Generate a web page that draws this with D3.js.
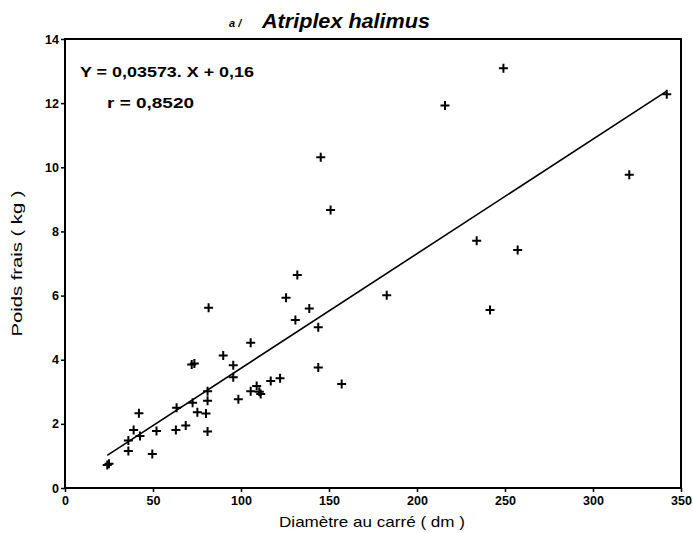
<!DOCTYPE html>
<html>
<head>
<meta charset="utf-8">
<script src="https://cdn.jsdelivr.net/npm/d3@7/dist/d3.min.js"></script>
<style>
  html, body { margin: 0; padding: 0; background: #fff; }
  svg { display: block; }
  text { font-family: "Liberation Sans", Arial, Helvetica, sans-serif; fill: #000; }
</style>
</head>
<body>
<svg id="chart" width="693" height="533"></svg>
<script>
// Squared diameter (dm) and fresh weight (kg) for each shrub
const diametre = [24, 25, 36, 36, 39, 42, 42.6, 49.6, 52, 63, 63.4, 68.6, 72, 73.5, 72.5, 75.2, 80.1, 81, 81, 81,
  81.6, 89.9, 95.6, 95.6, 98.5, 105.5, 105.5, 108.9, 110.4, 111.2, 116.9, 122.2, 125.6, 130.9, 132, 138.8,
  143.9, 143.9, 145.3, 150.9, 157.2, 182.8, 215.9, 233.9, 241.5, 249.1, 257.2, 320.6, 341.9];
const poids = [0.72, 0.76, 1.15, 1.48, 1.81, 2.33, 1.62, 1.06, 1.78, 1.81, 2.50, 1.95, 3.85, 3.88, 2.66, 2.36, 2.32, 3.02, 2.72, 1.76,
  5.62, 4.13, 3.83, 3.45, 2.77, 4.53, 3.02, 3.18, 3.00, 2.93, 3.34, 3.42, 5.93, 5.24, 6.64, 5.60,
  5.01, 3.76, 10.31, 8.67, 3.24, 6.01, 11.93, 7.71, 5.55, 13.09, 7.42, 9.77, 12.28];

// Fitted regression Y = a.X + b
const pente = 0.03573;
const ordonnee = 0.16;

const xTicks = [0, 50, 100, 150, 200, 250, 300, 350];
const yTicks = [0, 2, 4, 6, 8, 10, 12, 14];

const svg = d3.select("#chart");
const plot = { left: 65, right: 681, top: 39, bottom: 488 };

const x = d3.scaleLinear().domain([0, 350]).range([plot.left, plot.right]);
const y = d3.scaleLinear().domain([0, 14]).range([plot.bottom, plot.top]);

// Axes
const gx = svg.append("g").attr("transform", `translate(0,${plot.bottom})`)
  .call(d3.axisBottom(x).tickValues(xTicks).tickSize(4).tickPadding(4).tickFormat(d3.format("d")));
const gy = svg.append("g").attr("transform", `translate(${plot.left},0)`)
  .call(d3.axisLeft(y).tickValues(yTicks).tickSize(4).tickPadding(2).tickFormat(d3.format("d")));
[gx, gy].forEach(g => {
  g.select(".domain").remove();
  g.selectAll(".tick line").attr("stroke", "#000").attr("stroke-width", 1.5);
  g.selectAll(".tick text").attr("font-size", 12.5).attr("font-weight", "bold").attr("fill", "#000");
});

// Plot frame
svg.append("rect")
  .attr("x", plot.left).attr("y", plot.top)
  .attr("width", plot.right - plot.left).attr("height", plot.bottom - plot.top)
  .attr("fill", "none").attr("stroke", "#000").attr("stroke-width", 2);

// Regression line over the observed range
const xMin = d3.min(diametre), xMax = d3.max(diametre);
svg.append("line")
  .attr("x1", x(xMin)).attr("y1", y(pente * xMin + ordonnee))
  .attr("x2", x(xMax)).attr("y2", y(pente * xMax + ordonnee))
  .attr("stroke", "#000").attr("stroke-width", 1.6);

// Observations as plus markers
const pts = diametre.map((d, i) => [d, poids[i]]);
const h = 4.5;
svg.append("g").selectAll("path").data(pts).join("path")
  .attr("d", d => {
    const cx = x(d[0]), cy = y(d[1]);
    return `M${cx - h},${cy}H${cx + h}M${cx},${cy - h}V${cy + h}`;
  })
  .attr("stroke", "#000").attr("stroke-width", 2).attr("fill", "none");

// Title
svg.append("text").attr("x", 229).attr("y", 27)
  .attr("font-weight", "bold").attr("font-style", "italic").attr("font-size", 11)
  .text("a /");
svg.append("text").attr("x", 262).attr("y", 28)
  .attr("font-weight", "bold").attr("font-style", "italic").attr("font-size", 20)
  .attr("textLength", 168).attr("lengthAdjust", "spacingAndGlyphs")
  .text("Atriplex halimus");

// Equation and correlation
svg.append("text").attr("x", 80).attr("y", 77)
  .attr("font-size", 14.5).attr("font-weight", "bold")
  .attr("textLength", 174).attr("lengthAdjust", "spacingAndGlyphs")
  .text("Y = 0,03573. X + 0,16");
svg.append("text").attr("x", 107).attr("y", 108)
  .attr("font-size", 14.5).attr("font-weight", "bold")
  .attr("textLength", 87).attr("lengthAdjust", "spacingAndGlyphs")
  .text("r = 0,8520");

// Axis titles
svg.append("text").attr("x", (plot.left + plot.right) / 2 - 1).attr("y", 527)
  .attr("text-anchor", "middle").attr("font-size", 15)
  .attr("textLength", 186).attr("lengthAdjust", "spacingAndGlyphs")
  .text("Diamètre au carré ( dm )");
svg.append("text")
  .attr("transform", `translate(22,${(plot.top + plot.bottom) / 2}) rotate(-90)`)
  .attr("text-anchor", "middle").attr("font-size", 14)
  .attr("textLength", 146).attr("lengthAdjust", "spacingAndGlyphs")
  .text("Poids  frais ( kg )");
</script>
</body>
</html>
